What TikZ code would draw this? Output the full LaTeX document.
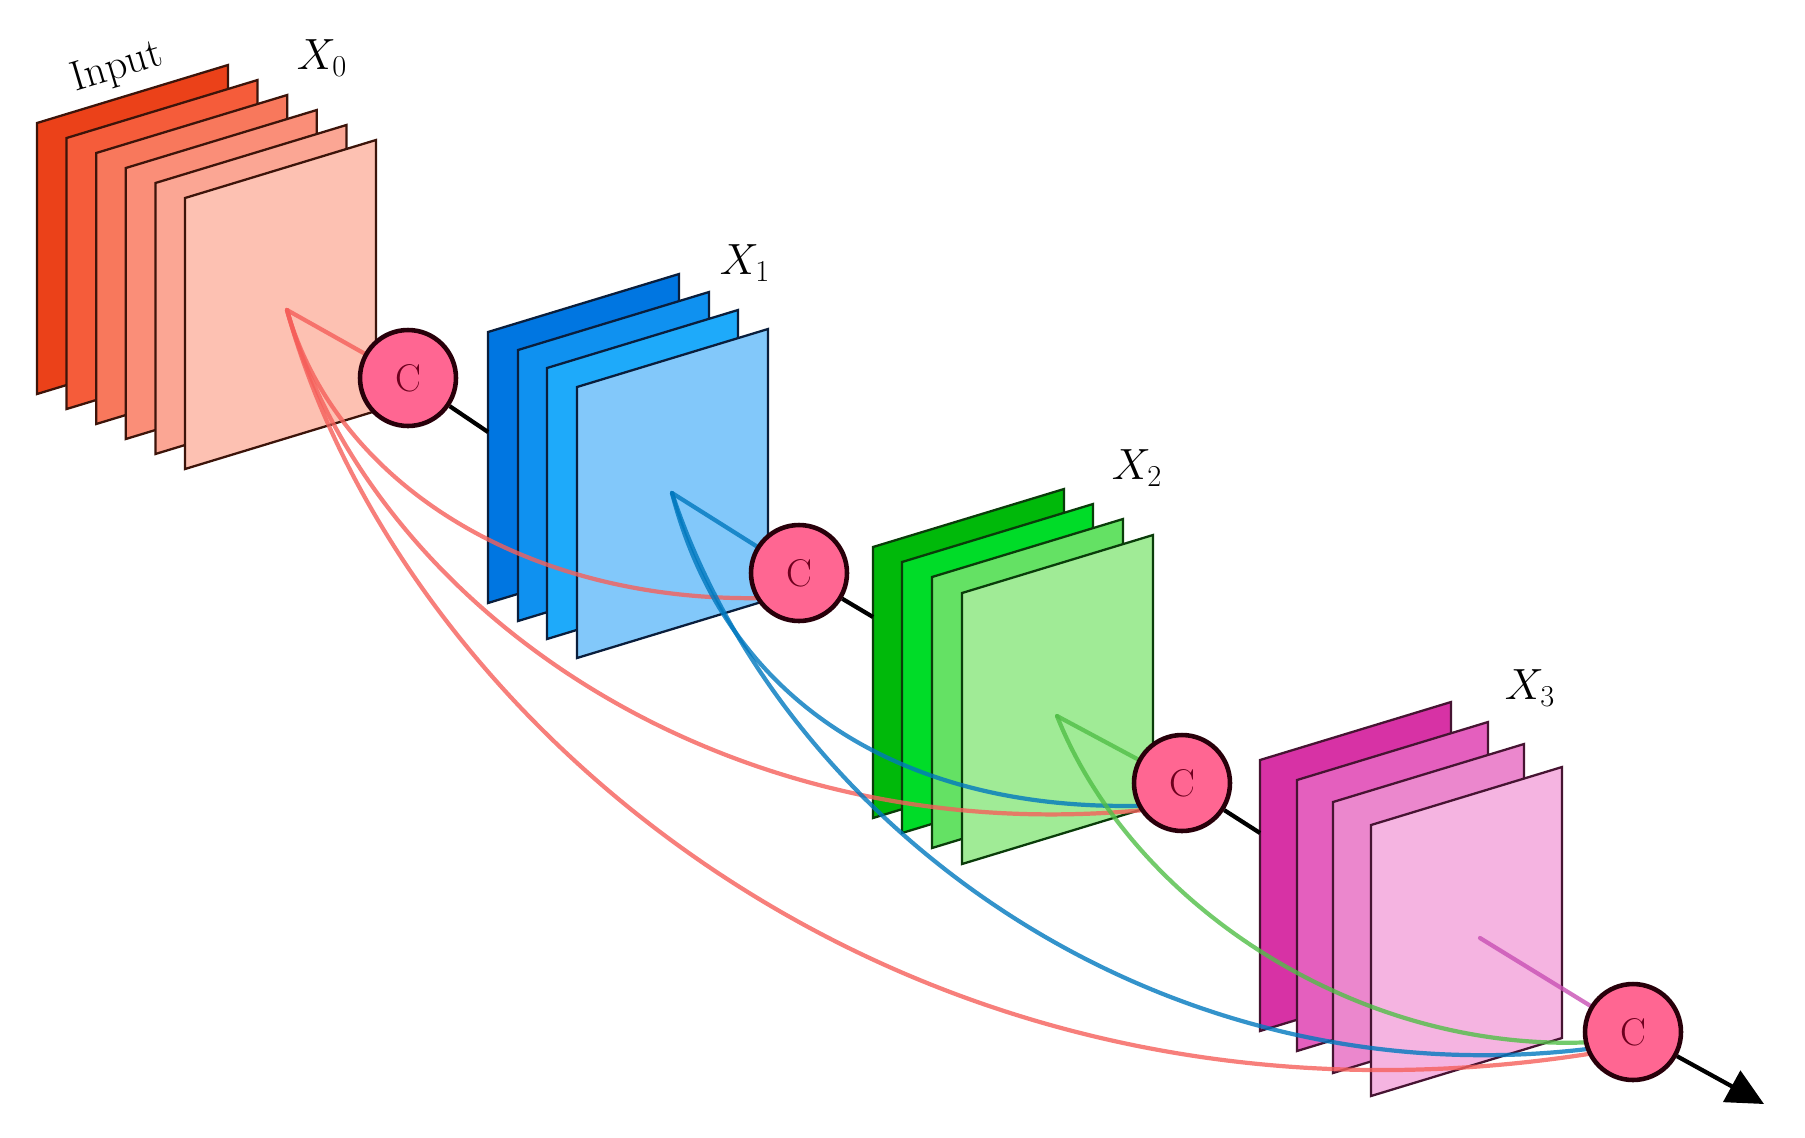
\documentclass[tikz,border=0pt]{standalone}
\usetikzlibrary{arrows.meta}
\pgfdeclarelayer{bg}
\pgfdeclarelayer{mid}
\pgfsetlayers{bg,mid,main}
\definecolor{rA}{RGB}{235,65,25}
\definecolor{rB}{RGB}{245,92,58}
\definecolor{rC}{RGB}{248,120,92}
\definecolor{rD}{RGB}{250,142,120}
\definecolor{rE}{RGB}{251,166,148}
\definecolor{rF}{RGB}{253,193,178}
\definecolor{rEdge}{RGB}{60,20,10}
\definecolor{bA}{RGB}{0,118,225}
\definecolor{bB}{RGB}{15,145,240}
\definecolor{bC}{RGB}{30,170,250}
\definecolor{bD}{RGB}{130,200,250}
\definecolor{bEdge}{RGB}{10,30,60}
\definecolor{gA}{RGB}{0,185,10}
\definecolor{gB}{RGB}{0,220,40}
\definecolor{gC}{RGB}{100,225,100}
\definecolor{gD}{RGB}{160,235,150}
\definecolor{gEdge}{RGB}{10,60,10}
\definecolor{mA}{RGB}{215,50,165}
\definecolor{mB}{RGB}{228,95,190}
\definecolor{mC}{RGB}{235,135,205}
\definecolor{mD}{RGB}{245,180,225}
\definecolor{mEdge}{RGB}{70,20,50}
\definecolor{cpink}{RGB}{255,102,146}
\definecolor{cdark}{RGB}{110,0,30}
\definecolor{cline}{RGB}{40,0,10}
\definecolor{redline}{RGB}{245,95,90}
\definecolor{blueline}{RGB}{0,120,190}
\definecolor{greenline}{RGB}{80,190,70}
\definecolor{magline}{RGB}{200,80,180}
\newcommand\drawsheet[4]{\filldraw[sheetbox, fill=#3, draw=#4] (#1,#2) -- ++(191,-58) -- ++(0,271) -- ++(-191,58) -- cycle;}
\begin{document}
\begin{tikzpicture}[x=0.02cm,y=-0.02cm,
  sheetbox/.style={line width=1.3pt, line join=miter},
  cnode/.style={circle, draw=cline, line width=2.6pt, fill=cpink, minimum size=1.92cm, inner sep=0pt, text=cdark, font=\fontsize{22}{26}\selectfont},
  link/.style={line width=2.4pt, black},
  skip/.style={line width=2.4pt, draw opacity=0.8, line cap=round},
  lab/.style={font=\fontsize{27}{31}\selectfont}]
\useasboundingbox (0,0) rectangle (1805,1137);

% circles (main layer)
\node[cnode] (c1) at (408,378) {C};
\node[cnode] (c2) at (799,573) {C};
\node[cnode] (c3) at (1182,783) {C};
\node[cnode] (c4) at (1633,1032) {C};

% sheet stacks
\begin{pgfonlayer}{bg}
\drawsheet{37}{123}{rA}{rEdge}
\drawsheet{66.6}{138}{rB}{rEdge}
\drawsheet{96.2}{153}{rC}{rEdge}
\drawsheet{125.8}{168}{rD}{rEdge}
\drawsheet{155.4}{183}{rE}{rEdge}
\drawsheet{185}{198}{rF}{rEdge}
\drawsheet{488}{332}{bA}{bEdge}
\drawsheet{518}{350}{bB}{bEdge}
\drawsheet{547}{368}{bC}{bEdge}
\drawsheet{577}{387}{bD}{bEdge}
\drawsheet{873}{547}{gA}{gEdge}
\drawsheet{902}{562}{gB}{gEdge}
\drawsheet{932}{577}{gC}{gEdge}
\drawsheet{962}{593}{gD}{gEdge}
\drawsheet{1260}{760}{mA}{mEdge}
\drawsheet{1297}{780}{mB}{mEdge}
\drawsheet{1333}{802}{mC}{mEdge}
\drawsheet{1371}{825}{mD}{mEdge}
\end{pgfonlayer}

% source points and link ends
\coordinate (p0) at (287,310);
\coordinate (pb) at (672,493);
\coordinate (pg) at (1057,716);
\coordinate (pm) at (1480,938);
\coordinate (b1) at (488,432);
\coordinate (g1) at (873,617);
\coordinate (m1) at (1260,833);
\coordinate (outp) at (1764,1104);

% dense connections
\begin{pgfonlayer}{mid}
\draw[skip, redline] (p0) -- (c1);
\draw[skip, redline] (p0) .. controls (335,480) and (520,600) .. (c2.210);
\draw[skip, redline] (p0) .. controls (365,590) and (700,850) .. (c3.213);
\draw[skip, redline] (p0) .. controls (400,720) and (900,1160) .. (c4.206);
\draw[skip, blueline] (pb) -- (c2);
\draw[skip, blueline] (pb) .. controls (725,700) and (900,810) .. (c3.207);
\draw[skip, blueline] (pb) .. controls (780,820) and (1150,1100) .. (c4.200);
\draw[skip, greenline] (pg) -- (c3);
\draw[skip, greenline] (pg) .. controls (1130,900) and (1350,1050) .. (c4.192);
\draw[skip, magline] (pm) -- (c4);
\draw[link] (c1) -- (b1);
\draw[link] (c2) -- (g1);
\draw[link] (c3) -- (m1);
\end{pgfonlayer}
\draw[link, -{Triangle[length=21pt,width=20pt]}] (c4) -- (outp);

% labels
\node[font=\fontsize{24}{28}\selectfont, rotate=16.6, inner sep=1pt] (inp) at (117,68) {Input};
\node[lab] (x0) at (322,58) {$X_0$};
\node[lab] (x1) at (745,263) {$X_1$};
\node[lab] (x2) at (1137,468) {$X_2$};
\node[lab] (x3) at (1530,688) {$X_3$};
\end{tikzpicture}
\end{document}
